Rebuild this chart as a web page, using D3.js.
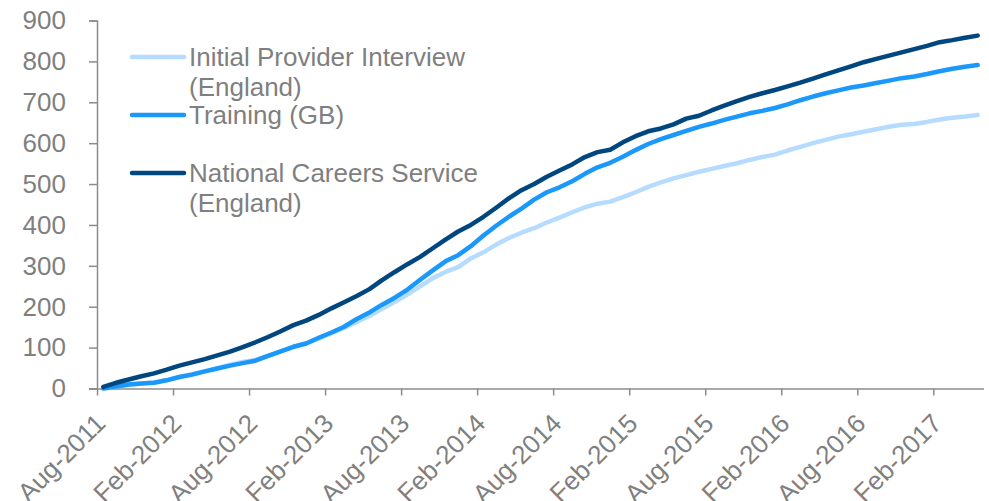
<!DOCTYPE html>
<html>
<head>
<meta charset="utf-8">
<script src="https://cdn.jsdelivr.net/npm/d3@7"></script>
<style>
    body { margin: 0; background: #fff; }
    svg { display: block; font-family: "Liberation Sans", Arial, sans-serif; }
</style>
</head>
<body>
<div id="wrapper"></div>
<script>
// month categories, Aug-2011 .. May-2017
const monthNames = ["Jan","Feb","Mar","Apr","May","Jun","Jul","Aug","Sep","Oct","Nov","Dec"]
const months = []
for (let k = 0; k < 70; k++) {
    const m = (7 + k) % 12
    const yr = 2011 + Math.floor((7 + k) / 12)
    months.push(monthNames[m] + "-" + yr)
}

const seriesNames = ["Initial Provider Interview (England)", "Training (GB)", "National Careers Service (England)"]

// cumulative values
const initialProvider = [0,5,9,12,15,21,28,35,42,50,58,65,70,80,91,102,110,122,135,148,
    163,178,195,212,230,250,270,285,297,318,333,352,368,381,392,406,418,431,443,452,
    457,468,480,493,504,514,522,530,537,544,551,559,566,572,582,591,600,608,616,622,
    628,634,640,645,647,652,658,662,665,669]
const training = [0,5,10,12,14,20,28,34,42,49,56,62,68,80,91,102,110,124,137,151,
    170,186,205,222,242,266,289,311,326,348,374,398,420,440,462,480,492,507,525,541,
    552,567,583,598,610,620,630,640,648,657,665,673,679,686,695,705,714,722,729,736,
    741,747,753,759,763,769,776,782,787,791]
const careersService = [4,14,22,30,37,46,56,64,72,81,90,101,113,126,140,155,166,180,196,211,
    226,243,265,285,304,322,343,364,384,400,420,442,465,485,500,518,533,548,566,578,
    584,602,617,629,636,646,660,667,680,692,703,713,722,730,739,748,758,768,778,788,
    798,806,814,822,830,838,847,852,858,863]

const yTicks = [0,100,200,300,400,500,600,700,800,900]
const colors = ["#b5dcfe", "#1b98fc", "#00467f"]

const width = 989, height = 501
const svg = d3.select("#wrapper")
    .append("svg")
    .attr("width", width)
    .attr("height", height)

const x = d3.scaleLinear()
    .domain([0, months.length])
    .range([97, 984])
const y = d3.scaleLinear()
    .domain([0, 900])
    .range([388.5, 20.5])

const grey = "#7f7f7f"
const axisCol = "#8c8c8c"

// y axis
const yAxis = svg.append("g")
    .attr("transform", "translate(97,0)")
    .call(d3.axisLeft(y).tickValues(yTicks).tickSize(8).tickPadding(23))
yAxis.select(".domain").attr("stroke", axisCol).attr("stroke-width", 1.5)
yAxis.selectAll(".tick line").attr("stroke", axisCol).attr("stroke-width", 1.5)
yAxis.selectAll(".tick text")
    .attr("fill", grey)
    .style("font-size", "26px")
    .style("font-family", "Liberation Sans, Arial, sans-serif")

// x axis
const xAxis = svg.append("g")
    .attr("transform", `translate(0,${y(0)})`)
    .call(d3.axisBottom(x)
        .tickValues(d3.range(0, months.length, 6))
        .tickFormat(function(i) { return months[i] })
        .tickSize(7)
        .tickSizeOuter(0))
xAxis.select(".domain").attr("stroke", axisCol).attr("stroke-width", 1.5)
    .attr("d", `M89,0.5H984`)
xAxis.selectAll(".tick line").attr("stroke", axisCol).attr("stroke-width", 1.5)
xAxis.selectAll(".tick text")
    .attr("fill", grey)
    .attr("x", 0)
    .attr("y", 0)
    .attr("dy", "0.35em")
    .attr("text-anchor", "end")
    .attr("transform", "translate(3,30) rotate(-45)")
    .style("font-size", "26px")
    .style("font-family", "Liberation Sans, Arial, sans-serif")

// lines
const allSeries = [initialProvider, training, careersService]
const line = d3.line()
    .x(function(d, i) { return x(i + 0.5) })
    .y(function(d) { return y(d) })

svg.selectAll(".series")
    .data(allSeries)
    .enter()
    .append("path")
        .attr("class", "series")
        .attr("d", function(d) { return line(d) })
        .attr("fill", "none")
        .attr("stroke", function(d, i) { return colors[i] })
        .attr("stroke-width", 4.5)
        .attr("stroke-linecap", "round")
        .attr("stroke-linejoin", "round")

// legend
const legendRows = [
    {lines: ["Initial Provider Interview", "(England)"], y: 57},
    {lines: ["Training (GB)"], y: 115},
    {lines: ["National Careers Service", "(England)"], y: 173}
]
const legend = svg.append("g")
legendRows.forEach(function(r, i) {
    legend.append("line")
        .attr("x1", 132).attr("x2", 184)
        .attr("y1", r.y).attr("y2", r.y)
        .attr("stroke", colors[i])
        .attr("stroke-width", 4.5)
        .attr("stroke-linecap", "round")
    const t = legend.append("text")
        .attr("x", 189)
        .attr("y", r.y + 9)
        .attr("fill", grey)
        .style("font-size", "26px")
    r.lines.forEach(function(s, j) {
        t.append("tspan")
            .attr("x", 189)
            .attr("dy", j == 0 ? 0 : 30)
            .text(s)
    })
})
</script>
</body>
</html>
